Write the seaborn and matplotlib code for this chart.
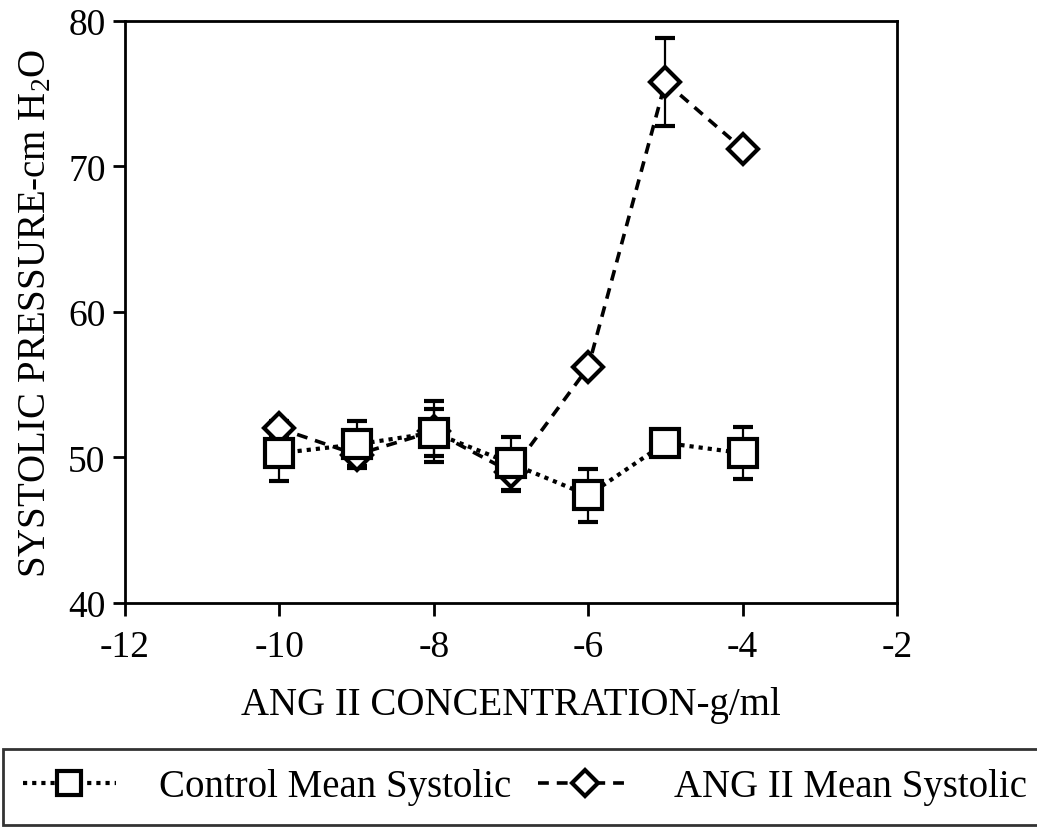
import numpy as np
import pandas as pd
import matplotlib
matplotlib.use("Agg")
import matplotlib.pyplot as plt
import seaborn as sns

# data
conc = [-10, -9, -8, -7, -6, -5, -4]
control_mean = [50.3, 50.9, 51.7, 49.6, 47.4, 51.0, 50.3]
control_err = [1.9, 1.6, 1.6, 1.8, 1.8, 0.3, 1.8]
ang_mean = [52.0, 50.2, 51.8, 49.0, 56.2, 75.8, 71.2]
ang_err = [0.5, 0.8, 2.1, 1.3, 0.3, 3.0, 0.3]

sns.set_style("ticks")
plt.rcParams["font.family"] = ["Liberation Serif", "DejaVu Serif"]
plt.rcParams["mathtext.default"] = "regular"
plt.rcParams["axes.unicode_minus"] = False
plt.rcParams["text.color"] = "black"
plt.rcParams["axes.labelcolor"] = "black"

fig = plt.figure(figsize=(10.37, 8.29), dpi=100)
ax = fig.add_axes([0.1205, 0.2714, 0.7445, 0.7021])

df_c = pd.DataFrame({"x": conc, "y": control_mean})
df_a = pd.DataFrame({"x": conc, "y": ang_mean})

# error bars (caps) first so markers sit on top
ax.errorbar(conc, control_mean, yerr=control_err, fmt="none", ecolor="black",
            elinewidth=1.6, capsize=7, capthick=3, zorder=2)
ax.errorbar(conc, ang_mean, yerr=ang_err, fmt="none", ecolor="black",
            elinewidth=1.6, capsize=7, capthick=3, zorder=2)

sns.lineplot(data=df_a, x="x", y="y", ax=ax, color="black", linewidth=2.6,
             linestyle=(0, (3, 2.2)), marker="D", markersize=15,
             markerfacecolor="white", markeredgecolor="black",
             markeredgewidth=3, zorder=3, label="ANG II Mean Systolic")
sns.lineplot(data=df_c, x="x", y="y", ax=ax, color="black", linewidth=3,
             linestyle=(0, (1, 1.2)), marker="s", markersize=20,
             markerfacecolor="white", markeredgecolor="black",
             markeredgewidth=3, zorder=4, label="Control Mean Systolic")

ax.set_xlim(-12, -2)
ax.set_ylim(40, 80)
ax.set_xticks(np.arange(-12, -1, 2))
ax.set_yticks(np.arange(40, 81, 10))
ax.tick_params(axis="both", direction="out", length=9, width=2,
               labelsize=27, colors="black")
ax.tick_params(axis="x", pad=10)
ax.tick_params(axis="y", pad=5)
for s in ax.spines.values():
    s.set_linewidth(2)
    s.set_color("black")

ax.set_xlabel("ANG II CONCENTRATION-g/ml", fontsize=28, labelpad=16)
ax.set_ylabel("SYSTOLIC PRESSURE-cm H$_2$O", fontsize=28, labelpad=10)

handles, labels = ax.get_legend_handles_labels()
ax.get_legend().remove()
order = [1, 0]
leg = fig.legend([handles[i] for i in order], [labels[i] for i in order],
                 loc="lower left", bbox_to_anchor=(0.003, 0.004), ncol=2,
                 fontsize=28, frameon=True, fancybox=False, edgecolor="black",
                 handlelength=2.4, handletextpad=1.1, columnspacing=0.7,
                 borderpad=0.5, borderaxespad=0.0, markerscale=0.85)
leg.get_frame().set_linewidth(2)

fig.savefig("out.png", dpi=100, facecolor="white")
